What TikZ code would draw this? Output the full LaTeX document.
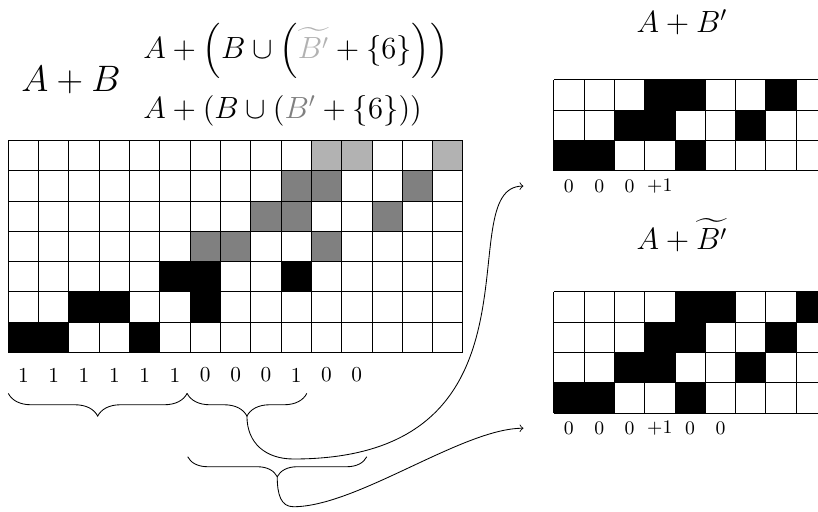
\documentclass[tikz,border=0pt]{standalone}
\usepackage{amsmath}
\usetikzlibrary{decorations.pathreplacing}
\definecolor{lightcell}{gray}{0.7}
\definecolor{darkcell}{gray}{0.5}
\begin{document}
\begin{tikzpicture}[x=0.5cm,y=0.5cm,
  gridline/.style={line width=0.4pt},
  blkcell/.style={fill=black},
  darkfill/.style={fill=darkcell},
  lightfill/.style={fill=lightcell},
  lbl/.style={inner sep=0pt,font=\normalsize},
  slbl/.style={inner sep=0pt,font=\small},
  title/.style={anchor=base west,inner sep=0pt},
  bracebig/.style={decorate,decoration={brace,mirror,amplitude=0.375cm}},
  bracesmall/.style={decorate,decoration={brace,mirror,amplitude=0.33cm}},
  link/.style={->,line width=0.4pt}]
\useasboundingbox (-0.274,-5.233) rectangle (26.72,11.632);
\clip (-0.274,-5.233) rectangle (26.72,11.632);

% main grid
\foreach \x/\y in {0/0,1/0,4/0,2/1,3/1,6/1,5/2,6/2,9/2}
  \fill[blkcell] (\x,\y) rectangle ++(1,1);
\foreach \x/\y in {6/3,7/3,10/3,8/4,9/4,12/4,9/5,10/5,13/5}
  \fill[darkfill] (\x,\y) rectangle ++(1,1);
\foreach \x/\y in {10/6,11/6,14/6}
  \fill[lightfill] (\x,\y) rectangle ++(1,1);
\draw[gridline,step=0.5cm] (0,0) grid (15,7);

% top right grid
\foreach \x/\y in {0/0,1/0,4/0,2/1,3/1,6/1,3/2,4/2,7/2}
  \fill[blkcell] (18+\x,6+\y) rectangle ++(1,1);
\draw[gridline,step=0.5cm] (18,6) grid (28,9);

% bottom right grid
\foreach \x/\y in {0/0,1/0,4/0,2/1,3/1,6/1,3/2,4/2,7/2,4/3,5/3,8/3}
  \fill[blkcell] (18+\x,-2+\y) rectangle ++(1,1);
\draw[gridline,step=0.5cm] (18,-2) grid (28,2);

% labels
\foreach \v [count=\i from 0] in {1,1,1,1,1,1,0,0,0,1,0,0}
  \node[lbl] (m\i) at (\i+0.5,-0.745) {\v};
\foreach \v [count=\i from 0] in {0,0,0,$+1$}
  \node[slbl] (t\i) at (18.5+\i,5.48) {\v};
\foreach \v [count=\i from 0] in {0,0,0,$+1$,0,0}
  \node[slbl] (u\i) at (18.5+\i,-2.5) {\v};

% titles
\node[title,font=\LARGE] (ab) at (0.42,8.61) {$A+B$};
\node[title,font=\Large] (f1) at (4.44,9.71)
  {$A+\left(B\cup\left(\textcolor{lightcell}{\widetilde{B'}}+\{6\}\right)\right)$};
\node[title,font=\Large] (f2) at (4.44,7.73)
  {$A+(B\cup(\textcolor{darkcell}{B'}+\{6\}))$};
\node[title,font=\Large] (abp) at (20.72,10.57) {$A+B'$};
\node[title,font=\Large] (abt) at (20.72,3.40) {$A+\widetilde{B'}$};

% braces
\draw[bracebig] (0,-1.35) -- (5.9,-1.35);
\draw[bracebig] (5.9,-1.35) -- (9.85,-1.35);
\draw[bracesmall] (5.92,-3.44) -- (11.83,-3.44);
\coordinate (b2tip) at (7.875,-2.10);
\coordinate (b3tip) at (8.875,-4.10);
\coordinate (lowtop) at (9.41,-3.515);
\coordinate (endtop) at (17,5.49);
\coordinate (lowbot) at (9.41,-5.09);
\coordinate (endbot) at (17,-2.5);

% links
\draw[link] (b2tip) .. controls +(0,-0.9) and +(-0.91,0) .. (lowtop)
  .. controls +(8.79,0) and +(-2.5,0) .. (endtop);
\draw[link] (b3tip) .. controls +(0,-0.6) and +(-0.41,0) .. (lowbot)
  .. controls +(2.09,0) and +(-2,0) .. (endbot);
\end{tikzpicture}
\end{document}
